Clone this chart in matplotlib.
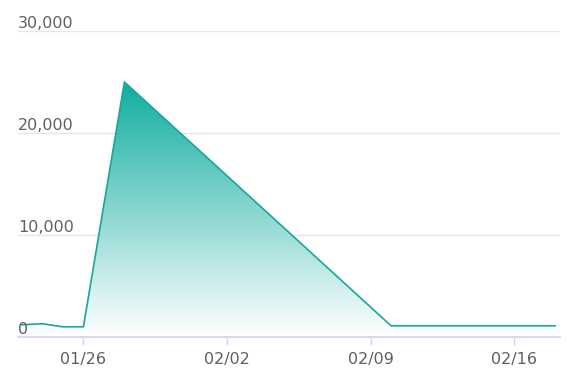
import numpy as np
import pandas as pd
import matplotlib
matplotlib.use('Agg')
import matplotlib.pyplot as plt
import matplotlib.dates as mdates
from matplotlib.colors import LinearSegmentedColormap

# data
dates = ['2020-01-23', '2020-01-24', '2020-01-25', '2020-01-26', '2020-01-28',
         '2020-02-10', '2020-02-11', '2020-02-12', '2020-02-13', '2020-02-14',
         '2020-02-15', '2020-02-16', '2020-02-17', '2020-02-18']
values = [1200, 1300, 1000, 1000, 25000,
          1100, 1100, 1100, 1100, 1100,
          1100, 1100, 1100, 1100]
y_ticks = [0, 10000, 20000, 30000]
x_ticks = ['2020-01-26', '2020-02-02', '2020-02-09', '2020-02-16']

line_clr = '#16a89b'
text_clr = '#606060'
axis_clr = '#ccd6eb'
grid_clr = '#e6e6e6'

x = mdates.date2num(pd.to_datetime(dates))
y = np.array(values)

fig = plt.figure(figsize=(5.73, 3.87), dpi=100)
ax = fig.add_axes([18 / 573, 50 / 387, 542 / 573, 306 / 387])

# gradient fill under the line
poly = ax.fill_between(x, y, 0, color='none', lw=0)
cmap = LinearSegmentedColormap.from_list('grad', ['#ffffff', '#10ada0'])
grad = np.linspace(0, 1, 256).reshape(-1, 1)
img = ax.imshow(grad, cmap=cmap, aspect='auto', origin='lower',
                extent=[x.min(), x.max(), 0, y.max()], zorder=1)
img.set_clip_path(poly.get_paths()[0], transform=ax.transData)

ax.plot(x, y, color=line_clr, lw=1.2, zorder=3)

ax.set_xlim(x.min() - 0.19, x.max() + 0.24)
ax.set_ylim(0, 30000)

# grid + axes styling
for v in y_ticks[1:]:
    ax.axhline(v, color=grid_clr, lw=1, zorder=0)
for s in ['top', 'right', 'left']:
    ax.spines[s].set_visible(False)
ax.spines['bottom'].set_color(axis_clr)
ax.spines['bottom'].set_linewidth(1.2)

ax.set_yticks([])
xt = mdates.date2num(pd.to_datetime(x_ticks))
ax.set_xticks(xt)
ax.set_xticklabels([pd.to_datetime(d).strftime('%m/%d') for d in x_ticks],
                   fontsize=11.5, color=text_clr)
ax.tick_params(axis='x', length=6, width=1, color=axis_clr, pad=5)

# y labels sit above their gridlines at the left edge
trans = ax.get_yaxis_transform()
for v in y_ticks:
    ax.text(0, v, f'{v:,}', transform=trans, ha='left', va='bottom',
            fontsize=11.5, color=text_clr)

ax.set_facecolor('white')
fig.savefig('out.png', dpi=100)
